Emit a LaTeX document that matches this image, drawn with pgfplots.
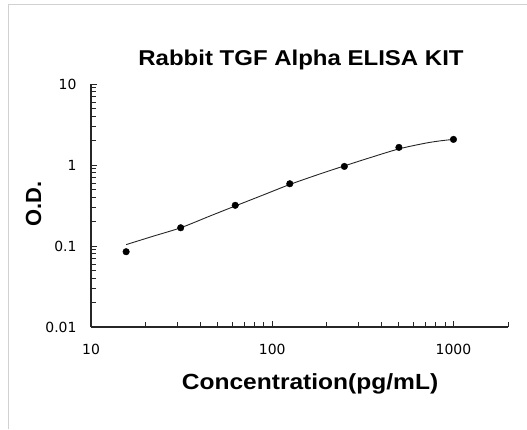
\documentclass[border=0pt]{standalone}
\usepackage{fontspec}
\setmainfont{Liberation Sans}
\newfontfamily\tickfont{DejaVu Sans}
\newfontfamily\labfont[FakeStretch=1.12]{Liberation Sans}
\usepackage{pgfplots}
\pgfplotsset{compat=1.18}
\newcommand\tk[1]{{\tickfont\fontsize{14}{16}\selectfont #1}}

\begin{document}
\begin{tikzpicture}[x=1bp,y=1bp]
\useasboundingbox (0,0) rectangle (527,429);
\draw[black!18, line width=1bp] (8,0) -- (8,424) -- (527,424);

\begin{axis}[
    at={(91bp,102bp)}, anchor=south west,
    scale only axis, width=417bp, height=243bp,
    xmode=log, ymode=log,
    xmin=10, xmax=2000, ymin=0.01, ymax=10,
    axis x line=bottom, axis y line=left,
    axis line style={-, line width=1.2bp, black!85},
    tick align=inside,
    major tick length=6bp, minor tick length=5bp,
    every tick/.style={black!85, line width=0.9bp},
    xtick={10,100,1000}, xticklabels={\tk{10},\tk{100},\tk{1000}},
    ytick={0.01,0.1,1,10}, yticklabels={\tk{0.01},\tk{0.1},\tk{1},\tk{10}},
    minor xtick={20,30,40,50,60,70,80,90,200,300,400,500,600,700,800,900,2000},
    minor ytick={0.02,0.03,0.04,0.05,0.06,0.07,0.08,0.09,0.2,0.3,0.4,0.5,0.6,0.7,0.8,0.9,2,3,4,5,6,7,8,9},
    tick label style={text=black},
    yticklabel style={xshift=-11bp},
    xticklabel style={yshift=-14bp},
    clip=false,
]
% fitted curve
\addplot[black!85, line width=0.9bp, smooth, tension=0.5] coordinates {
    (15.625,0.104) (22,0.132) (31.25,0.168) (45,0.233) (62.5,0.312)
    (90,0.430) (125,0.575) (180,0.765) (250,0.975) (350,1.24)
    (500,1.58) (700,1.86) (850,1.99) (1000,2.07)
};
% standards
\addplot[only marks, mark=*, mark size=3.3bp, black] coordinates {
    (15.625,0.085) (31.25,0.168) (62.5,0.318) (125,0.587)
    (250,0.96) (500,1.65) (1000,2.07)
};
\end{axis}

\node[anchor=base, font=\labfont\bfseries\fontsize{21.5}{24}\selectfont] at (301,364) {Rabbit TGF Alpha ELISA KIT};
\node[anchor=base, font=\labfont\bfseries\fontsize{22}{24}\selectfont] at (310,40) {Concentration(pg/mL)};
\node[anchor=base, rotate=90, font=\bfseries\fontsize{22}{24}\selectfont] at (41,225) {O.D.};
\end{tikzpicture}
\end{document}
